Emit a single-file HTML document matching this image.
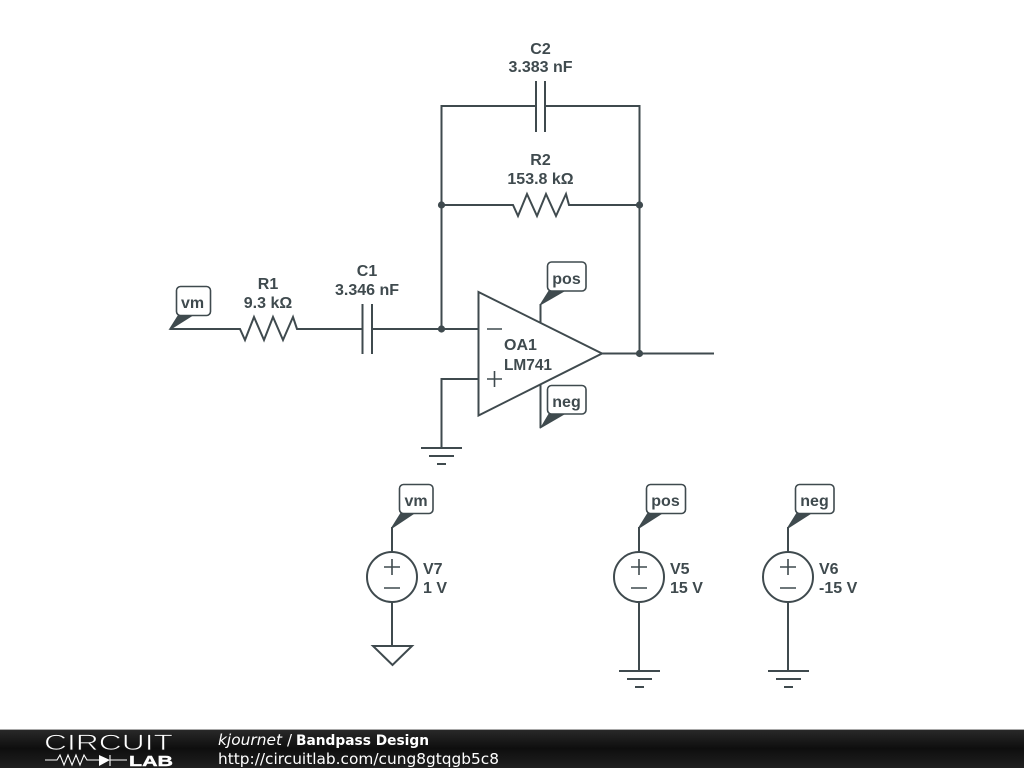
<!DOCTYPE html>
<html>
<head>
<meta charset="utf-8">
<style>
html,body{margin:0;padding:0;background:#fff;width:1024px;height:768px;overflow:hidden}
svg{display:block}
.w{fill:none;stroke:#3f4a4e;stroke-width:2;stroke-linejoin:miter}
.s{fill:none;stroke:#3f4a4e;stroke-width:1.600}
.t{font-family:"Liberation Sans",sans-serif;font-weight:bold;font-size:16px;fill:#3f4a4e;text-anchor:middle}
.l{text-anchor:start}
.box{fill:#fff;stroke:#3f4a4e;stroke-width:1.600}
.d{fill:#3f4a4e}
.f{font-family:"DejaVu Sans",sans-serif;fill:#fff}
</style>
</head>
<body>
<svg width="1024" height="768" viewBox="0 0 1024 768" xmlns="http://www.w3.org/2000/svg">
<defs>
<linearGradient id="bar" x1="0" y1="0" x2="0" y2="1">
<stop offset="0" stop-color="#2a2a2a"/><stop offset="0.5" stop-color="#0e0e0e"/><stop offset="1" stop-color="#202020"/>
</linearGradient>
</defs>

<!-- input branch -->
<path class="w" d="M170 329H240L245 340L254 317L264 340L273 317L283 340L293 317L297 329H362M372 329H478"/>
<path class="w" d="M362.500 304V354M372 304V354"/>

<!-- feedback -->
<path class="w" d="M441.500 329V106H536M545 106H639.500V353.500"/>
<path class="w" d="M536 81V132M545 81V132"/>
<path class="w" d="M441.500 205H513L518 216L527 194L537 216L546 194L556 216L566 194L569 205H639.500"/>
<circle class="d" cx="441.500" cy="329" r="3.600"/>
<circle class="d" cx="441.500" cy="205" r="3.600"/>
<circle class="d" cx="639.500" cy="205" r="3.600"/>
<circle class="d" cx="639.500" cy="353.500" r="3.600"/>

<!-- op amp -->
<path class="w" d="M478.500 292L602 353.500L478.500 415.500Z"/>
<path class="w" d="M602 353.500H714"/>
<path class="s" d="M487 329H502M487 379H502M494.500 371V387"/>
<path class="w" d="M478 379H441.500V448M421 448H462M429 456H454M437 464H446"/>

<!-- op amp supply flags -->
<path class="w" d="M540.500 323V304"/>
<path class="d" d="M539.500 305L549 290H567L541 305Z"/>
<rect class="box" x="547.500" y="262" width="38.500" height="29" rx="4"/>
<text class="t" x="566.500" y="284">pos</text>
<path class="w" d="M540.500 385V428"/>
<path class="d" d="M539.500 429L549 413H567Z"/>
<rect class="box" x="547.500" y="385.500" width="38.500" height="28.500" rx="4"/>
<text class="t" x="566.500" y="407">neg</text>

<!-- vm input flag -->
<path class="d" d="M168.500 330L178 315H194L171 329.500Z"/>
<rect class="box" x="176.500" y="286.500" width="34" height="29" rx="4"/>
<text class="t" x="192.500" y="308">vm</text>

<!-- labels -->
<text class="t" x="268" y="289">R1</text>
<text class="t" x="268" y="308">9.3 kΩ</text>
<text class="t" x="367" y="276">C1</text>
<text class="t" x="367" y="295">3.346 nF</text>
<text class="t" x="540.500" y="54">C2</text>
<text class="t" x="540.500" y="72">3.383 nF</text>
<text class="t" x="540.500" y="165">R2</text>
<text class="t" x="540.500" y="184">153.8 kΩ</text>
<text class="t l" x="504" y="350">OA1</text>
<text class="t l" x="504" y="370" textLength="48" lengthAdjust="spacingAndGlyphs">LM741</text>

<!-- V7 -->
<path class="w" d="M392 527V552M392 602V646"/>
<circle class="w" cx="392" cy="577" r="25"/>
<path class="s" d="M384 567H400M392 559V575M384 588H400"/>
<path class="w" d="M373 646H412L392.500 665Z"/>
<path class="d" d="M391 528L401 512H417L393 528Z"/>
<rect class="box" x="399.500" y="484.500" width="33.500" height="29" rx="4"/>
<text class="t" x="416" y="506">vm</text>
<text class="t l" x="423" y="574">V7</text>
<text class="t l" x="423" y="593">1 V</text>

<!-- V5 -->
<path class="w" d="M639 527V552M639 602V671M619 671H660M627 679H652M635 687H644"/>
<circle class="w" cx="639" cy="577" r="25"/>
<path class="s" d="M631 567H647M639 559V575M631 588H647"/>
<path class="d" d="M638 528L648 512H665L640 528Z"/>
<rect class="box" x="646.500" y="484.500" width="39" height="29" rx="4"/>
<text class="t" x="665.500" y="506">pos</text>
<text class="t l" x="670" y="574">V5</text>
<text class="t l" x="670" y="593">15 V</text>

<!-- V6 -->
<path class="w" d="M788 527V552M788 602V671M768 671H809M776 679H801M784 687H793"/>
<circle class="w" cx="788" cy="577" r="25"/>
<path class="s" d="M780 567H796M788 559V575M780 588H796"/>
<path class="d" d="M787 528L797 512H814L789 528Z"/>
<rect class="box" x="795.500" y="484.500" width="38.500" height="29" rx="4"/>
<text class="t" x="814.500" y="506">neg</text>
<text class="t l" x="819" y="574">V6</text>
<text class="t l" x="819" y="593">-15 V</text>

<!-- footer -->
<rect x="0" y="729" width="1024" height="39" fill="url(#bar)"/>
<rect x="0" y="729" width="1024" height="1" fill="#a8a8a8"/>
<text x="44" y="750" font-family="Liberation Sans,sans-serif" font-size="22" fill="#fff" stroke="#1a1a1a" stroke-width="0.700" textLength="129" lengthAdjust="spacingAndGlyphs">CIRCUIT</text>
<path d="M45 760H57L60 755L64 765L68 755L72 765L76 755L80 765L84 755L87 760H99M110 760H127M110 755V766" fill="none" stroke="#fff" stroke-width="1.100"/>
<path d="M99 755L110 760L99 766Z" fill="#fff"/>
<text x="129" y="766" font-family="Liberation Sans,sans-serif" font-size="15" font-weight="bold" fill="#fff" stroke="#fff" stroke-width="0.400" textLength="44" lengthAdjust="spacingAndGlyphs">LAB</text>
<text class="f" x="218" y="745" font-size="15" font-style="italic" textLength="64" lengthAdjust="spacingAndGlyphs">kjournet</text>
<text class="f" x="287" y="745" font-size="15">/</text>
<text class="f" x="296" y="745" font-size="14" font-weight="bold" textLength="133" lengthAdjust="spacingAndGlyphs">Bandpass Design</text>
<text class="f" x="218" y="764" font-size="15" textLength="281" lengthAdjust="spacingAndGlyphs">http://circuitlab.com/cung8gtqgb5c8</text>
</svg>
</body>
</html>
